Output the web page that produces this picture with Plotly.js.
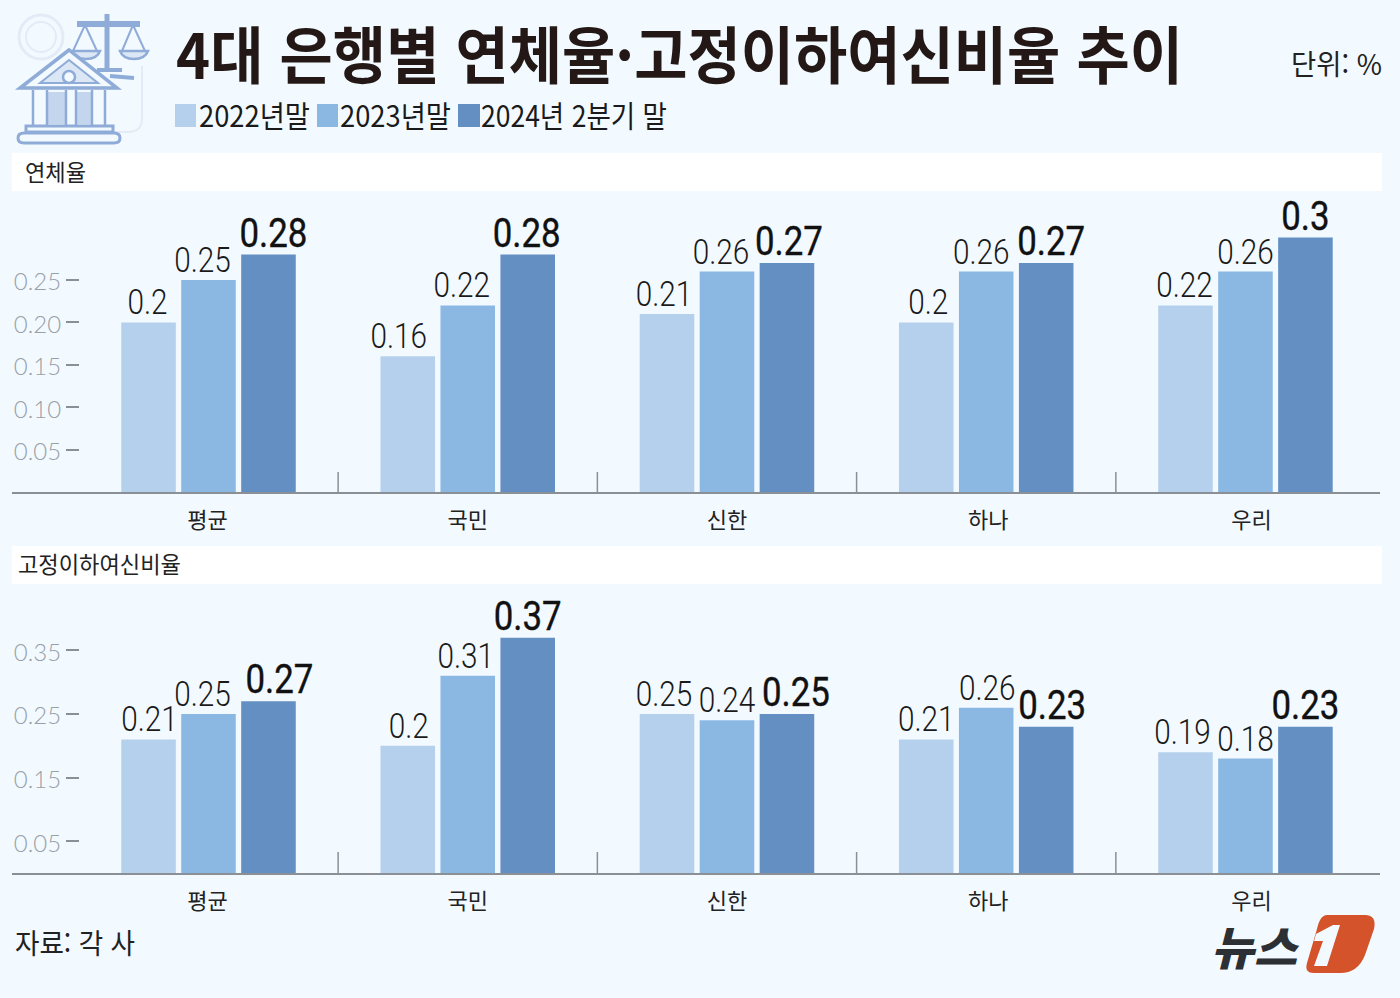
<!DOCTYPE html>
<html lang="ko">
<head>
    <meta charset="UTF-8">
    <title>4대 은행별 연체율·고정이하여신비율 추이</title>
    <script src="https://cdn.plot.ly/plotly-3.0.1.min.js"></script>
    <style>
        html, body { margin: 0; padding: 0; background: #f3faff; }
        #plot { width: 1400px; height: 998px; }
    </style>
</head>
<body>
    <div id="plot"></div>
    <script>
        // Data
        const banks = ['평균', '국민', '신한', '하나', '우리'];
        const seriesNames = ['2022년말', '2023년말', '2024년 2분기 말'];
        const colors = ['#b5d0ec', '#8ab8e3', '#648fc3'];

        const delinq2022 = [0.20, 0.16, 0.21, 0.20, 0.22];
        const delinq2023 = [0.25, 0.22, 0.26, 0.26, 0.26];
        const delinq2024 = [0.28, 0.28, 0.27, 0.27, 0.30];
        const delinqLabels2022 = ['0.2', '0.16', '0.21', '0.2', '0.22'];
        const delinqLabels2023 = ['0.25', '0.22', '0.26', '0.26', '0.26'];
        const delinqLabels2024 = ['0.28', '0.28', '0.27', '0.27', '0.3'];
        const delinqTicks = [0.05, 0.10, 0.15, 0.20, 0.25];

        const npl2022 = [0.21, 0.20, 0.25, 0.21, 0.19];
        const npl2023 = [0.25, 0.31, 0.24, 0.26, 0.18];
        const npl2024 = [0.27, 0.37, 0.25, 0.23, 0.23];
        const nplLabels2022 = ['0.21', '0.2', '0.25', '0.21', '0.19'];
        const nplLabels2023 = ['0.25', '0.31', '0.24', '0.26', '0.18'];
        const nplLabels2024 = ['0.27', '0.37', '0.25', '0.23', '0.23'];
        const nplTicks = [0.05, 0.15, 0.25, 0.35];

        // hand placed label offsets of the original, px, one row per trace
        const labelShiftX = [
            [-1, -9, -3, 2, -1],
            [-6, -6, -6, -5, 0],
            [5, -1, 2, 5, 0],
            [1, 1, -3, 0, -3],
            [-6, -2, 0, 1, 0],
            [11, 0, 9, 6, 0]
        ];
        const tickShiftX = [-1, 0, 0, 2, 6];

        const W = 1400, H = 998;
        const KR = '"Noto Sans CJK KR", "Noto Sans", sans-serif';
        const NUM = 'Roboto, sans-serif';

        // pixel helpers, the whole page is the paper
        const px = x => x / W;
        const py = y => 1 - y / H;
        function pathOf(d) {
            let n = 0;
            return d.replace(/-?\d+(\.\d+)?/g, v => (n++ % 2 === 0 ? px(+v) : py(+v)).toFixed(5));
        }
        function rect(x0, y0, x1, y1, fill) {
            return { type: 'rect', xref: 'paper', yref: 'paper', x0: px(x0), x1: px(x1), y0: py(y1), y1: py(y0),
                     fillcolor: fill, line: { width: 0 }, layer: 'below' };
        }
        function line(d, color, width, fill) {
            return { type: 'path', xref: 'paper', yref: 'paper', path: pathOf(d),
                     line: { color: color, width: width }, fillcolor: fill || 'rgba(0,0,0,0)' };
        }
        function circle(cx, cy, r, color, width, fill) {
            return { type: 'circle', xref: 'paper', yref: 'paper', x0: px(cx - r), x1: px(cx + r), y0: py(cy + r), y1: py(cy - r),
                     line: { color: color, width: width }, fillcolor: fill || 'rgba(0,0,0,0)' };
        }
        // width = pixel width the text gets squeezed to after drawing
        const textWidths = [];
        function label(text, x, y, size, color, width, opts) {
            textWidths.push(width || 0);
            return Object.assign({ text: text, xref: 'paper', yref: 'paper', x: px(x), y: py(y), xanchor: 'left', yanchor: 'middle',
                     showarrow: false, font: { family: KR, size: size, color: color }, borderpad: 0 }, opts || {});
        }

        function barTrace(y, text, i, xa, ya) {
            return {
                type: 'bar', x: banks, y: y, name: seriesNames[i], xaxis: xa, yaxis: ya,
                marker: { color: colors[i] },
                text: text, textposition: 'outside', constraintext: 'none', cliponaxis: false,
                textfont: i === 2 ? { family: NUM, size: 41, color: '#111', weight: 400 }
                                  : { family: NUM, size: 35, color: '#1a1a1a', weight: 300 },
                hoverinfo: 'x+y', showlegend: false
            };
        }

        const data = [
            barTrace(delinq2022, delinqLabels2022, 0, 'x', 'y'),
            barTrace(delinq2023, delinqLabels2023, 1, 'x', 'y'),
            barTrace(delinq2024, delinqLabels2024, 2, 'x', 'y'),
            barTrace(npl2022, nplLabels2022, 0, 'x2', 'y2'),
            barTrace(npl2023, nplLabels2023, 1, 'x2', 'y2'),
            barTrace(npl2024, nplLabels2024, 2, 'x2', 'y2')
        ];

        function catAxis(anchor, standoff) {
            return {
                anchor: anchor, domain: [px(12), px(1380)], range: [-0.758, 4.519],
                type: 'category', categoryorder: 'array', categoryarray: banks,
                showline: true, linecolor: '#8b9096', linewidth: 2, showgrid: false, zeroline: false,
                ticks: '', ticklabelstandoff: standoff, fixedrange: true,
                tickfont: { family: KR, size: 22, color: '#222' }
            };
        }
        function valAxis(anchor, top, bottom, perUnit, ticks) {
            return {
                anchor: 'free', position: px(79), domain: [py(bottom), py(top)], range: [0, (bottom - top) / perUnit],
                showline: false, showgrid: false, zeroline: false, fixedrange: true,
                tickvals: ticks, ticktext: ticks.map(v => v.toFixed(2)),
                ticks: 'outside', ticklen: 13, tickwidth: 2, tickcolor: '#8b9096',
                tickfont: { family: 'Lato, sans-serif', size: 24, color: '#98a0a8', weight: 300 }
            };
        }

        // separators between the banks
        function separators(xa, ya, height) {
            return [0.5, 1.5, 2.5, 3.5].map(v => ({
                type: 'line', xref: xa, yref: ya, x0: v, x1: v, y0: 0, y1: height,
                line: { color: '#8b9096', width: 1.5 }
            }));
        }

        const ICON = '#8fabd8', ICON_FAINT = '#e3ecf6';
        const iconShapes = [
            // faint seal behind the bank
            circle(41, 37, 22, ICON_FAINT, 3),
            circle(41, 37, 15, ICON_FAINT, 2),
            line('M 142 66 L 142 118 Q 142 132 128 132 L 112 132', ICON_FAINT, 2),
            // scales
            line('M 107 14 L 107 68', ICON, 5),
            line('M 77 24 L 140 24', ICON, 6),
            line('M 85 25 L 73 51 M 85 25 L 97 51 M 133 25 L 122 51 M 133 25 L 145 51', ICON, 2),
            line('M 71 51 L 100 51 Q 97 59 86 59 Q 75 59 71 51 Z', ICON, 2.5, '#dbe7f5'),
            line('M 120 51 L 148 51 Q 145 59 134 59 Q 123 59 120 51 Z', ICON, 2.5, '#dbe7f5'),
            line('M 97 70 L 122 70 M 110 76 L 134 78', ICON, 4),
            // bank
            line('M 69 50 L 20 88 L 117 88 Z', ICON, 3.5, '#f3faff'),
            line('M 69 60 L 40 83 L 98 83 Z', ICON, 2, '#dbe7f5'),
            circle(69, 77, 6, ICON, 2.5, '#f3faff'),
            rect(47, 92, 66, 124, '#c3d6ee'),
            rect(76, 92, 92, 124, '#c3d6ee'),
            line('M 33 90 L 33 125 M 47 90 L 47 125 M 66 90 L 66 125 M 76 90 L 76 125 M 92 90 L 92 125 M 105 90 L 105 125', ICON, 2.5),
            line('M 26 126 L 113 126 L 113 132 L 26 132 Z', ICON, 3),
            line('M 24 133 L 114 133 Q 120 133 120 138 Q 120 143 114 143 L 24 143 Q 18 143 18 138 Q 18 133 24 133 Z', ICON, 3)
        ];
        const logoShapes = [
            line('M 1327 915 L 1365 915 Q 1377 915 1374 929 L 1365 955 Q 1358 973 1340 973 L 1314 973 Q 1304 973 1307 963 L 1317 929 Q 1320 915 1327 915 Z', '#d4532a', 0, '#d4532a'),
            line('M 1316 934 L 1333 925 L 1340 925 L 1327 966 L 1314 966 L 1323 941 L 1314 941 Z', '#f3faff', 0, '#f3faff')
        ];

        const shapes = [
            rect(12, 153, 1382, 191, '#ffffff'),
            rect(12, 546, 1382, 584, '#ffffff'),
            rect(175, 104, 196, 127, colors[0]),
            rect(317, 104, 338, 127, colors[1]),
            rect(458, 104, 480, 127, colors[2])
        ].concat(separators('x', 'y', 0.0236), separators('x2', 'y2', 0.033), iconShapes, logoShapes);

        const annotations = [
            label('4대 은행별 연체율·고정이하여신비율 추이', 175, 52, 62, '#231815', 1007, { font: { family: KR, size: 62, color: '#231815', weight: 700 } }),
            label('단위: %', 1290, 63, 28, '#222', 91),
            label(seriesNames[0], 198, 114, 30, '#1a1a1a', 111),
            label(seriesNames[1], 339, 114, 30, '#1a1a1a', 111),
            label(seriesNames[2], 480, 114, 30, '#1a1a1a', 186),
            label('연체율', 24, 171, 23, '#222', 61),
            label('고정이하여신비율', 17, 563, 23, '#222', 163),
            label('자료: 각 사', 14, 942, 28, '#222', 120),
            label('뉴스', 1210, 945, 46, '#2c2f33', 86, { font: { family: KR, size: 46, color: '#2c2f33', weight: 900, style: 'italic' } })
        ];

        const layout = {
            width: W, height: H,
            margin: { l: 0, r: 0, t: 0, b: 0 },
            paper_bgcolor: '#f3faff', plot_bgcolor: 'rgba(0,0,0,0)',
            barmode: 'group', bargap: 0.306, bargroupgap: 0.09,
            showlegend: false,
            xaxis: catAxis('y', 8),
            yaxis: valAxis('x', 200, 492, 848, delinqTicks),
            xaxis2: catAxis('y2', 8),
            yaxis2: valAxis('x2', 590, 873, 636, nplTicks),
            shapes: shapes,
            annotations: annotations
        };

        Plotly.newPlot('plot', data, layout, { displayModeBar: false, staticPlot: true }).then(gd => {
            // the original uses a condensed face, squeeze the text horizontally
            gd.querySelectorAll('.annotation').forEach((el, i) => {
                const t = el.querySelector('text');
                if (t && textWidths[i]) {
                    const natural = t.getComputedTextLength();
                    t.setAttribute('textLength', textWidths[i]);
                    t.setAttribute('lengthAdjust', 'spacingAndGlyphs');
                    t.setAttribute('x', parseFloat(t.getAttribute('x') || 0) - (natural - textWidths[i]) / 2);
                }
            });
            gd.querySelectorAll('.barlayer .trace').forEach((tr, k) => {
                tr.querySelectorAll('text.bartext').forEach((t, i) => {
                    t.setAttribute('textLength', t.getComputedTextLength() * 0.85);
                    t.setAttribute('lengthAdjust', 'spacingAndGlyphs');
                    const bold = k % 3 === 2;
                    if (bold) {
                        t.style.stroke = '#111';
                        t.style.strokeWidth = '0.4px';
                    }
                    const old = t.getAttribute('transform') || '';
                    t.setAttribute('transform', `translate(${labelShiftX[k][i]},${bold ? 5 : 4}) ${old}`);
                });
            });
            gd.querySelectorAll('.xtick text, .x2tick text').forEach((t, i) => {
                t.setAttribute('x', parseFloat(t.getAttribute('x')) + tickShiftX[i % 5]);
            });
            gd.querySelectorAll('.ytick text, .y2tick text').forEach(t => {
                t.setAttribute('y', parseFloat(t.getAttribute('y')) + 2);
            });
        });
    </script>
</body>
</html>
